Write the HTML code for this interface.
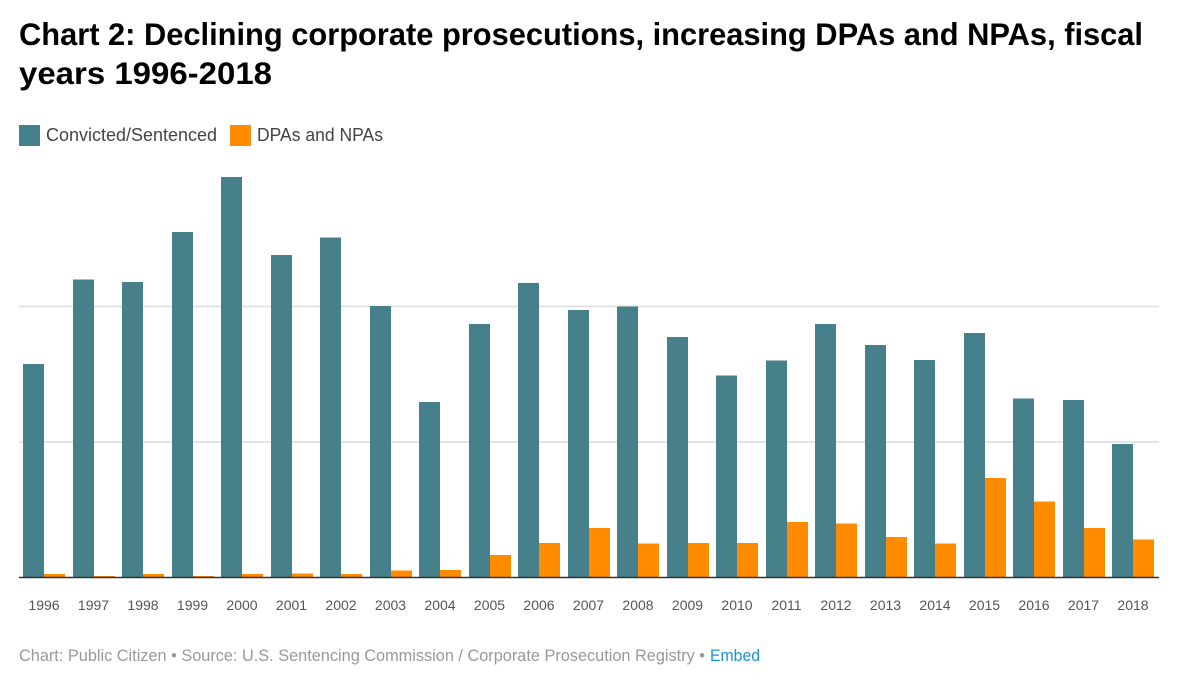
<!DOCTYPE html>
<html lang="en">
<head>
<meta charset="utf-8">
<title>Chart 2: Declining corporate prosecutions, increasing DPAs and NPAs, fiscal years 1996-2018</title>
<style>
  html, body { margin: 0; padding: 0; background: #fff; }
  body { width: 1195px; height: 687px; overflow: hidden; font-family: "Liberation Sans", sans-serif; }
  svg { display: block; }
  text { font-family: "Liberation Sans", sans-serif; }
</style>
</head>
<body>
<svg id="chart" xmlns="http://www.w3.org/2000/svg" width="1195" height="687" viewBox="0 0 1195 687">
  <rect x="0" y="0" width="1195" height="687" fill="#ffffff"/>
  <g font-size="31.5" font-weight="700" fill="#000000">
    <text x="19" y="45" textLength="1124" lengthAdjust="spacingAndGlyphs">Chart 2: Declining corporate prosecutions, increasing DPAs and NPAs, fiscal</text>
    <text x="19" y="84" textLength="253" lengthAdjust="spacingAndGlyphs">years 1996-2018</text>
  </g>
  <g font-size="18" fill="#444444">
    <rect x="19" y="125" width="21" height="21" fill="#46808a"/>
    <text x="46" y="141" textLength="171" lengthAdjust="spacingAndGlyphs">Convicted/Sentenced</text>
    <rect x="230" y="125" width="21" height="21" fill="#ff8c00"/>
    <text x="257" y="141" textLength="126" lengthAdjust="spacingAndGlyphs">DPAs and NPAs</text>
  </g>
  <g id="grid"></g>
  <g id="bars"></g>
  <g id="xaxis"></g>
  <g font-size="16.5">
    <text x="19" y="661" fill="#999999" textLength="686" lengthAdjust="spacingAndGlyphs">Chart: Public Citizen • Source: U.S. Sentencing Commission / Corporate Prosecution Registry •</text>
    <text x="710" y="661" fill="#1a94d8" textLength="50" lengthAdjust="spacingAndGlyphs" style="cursor:pointer">Embed</text>
  </g>
</svg>
<script>
const categories = ["1996","1997","1998","1999","2000","2001","2002","2003","2004","2005","2006","2007","2008","2009","2010","2011","2012","2013","2014","2015","2016","2017","2018"];
const convicted = [157.5,220,218,255,295.5,238,251,200.5,129.5,187,217.5,197.5,200,177.5,149,160,187,171.5,160.5,180.5,132,131,98.5];
const dpasNpas = [2.5,1,2.5,1,2.5,3,2.5,5,5.5,16.5,25.5,36.5,25,25.5,25.5,41,40,30,25,73.5,56,36.5,28];
const gridValues = [100,200];

const svgNS = "http://www.w3.org/2000/svg";
const PLOT_LEFT = 19;
const PLOT_RIGHT = 1159;
const BASELINE = 577.5;
const PX_PER_UNIT = 1.355;
const BAND = 49.5;
const FIRST_CENTER = 44;
const BAR_W = 21;

function yScale(v) { return BASELINE - v * PX_PER_UNIT; }
function xCenter(i) { return FIRST_CENTER + i * BAND; }

function make(tag, attrs, parent) {
  const el = document.createElementNS(svgNS, tag);
  for (const k in attrs) el.setAttribute(k, attrs[k]);
  parent.appendChild(el);
  return el;
}

const gridGroup = document.getElementById("grid");
gridValues.forEach(function (v) {
  const line = make("line", { x1: PLOT_LEFT, x2: PLOT_RIGHT, y1: yScale(v), y2: yScale(v), stroke: "#dcdcdc", "stroke-width": 1.5 }, gridGroup);
  
  
});

const barsGroup = document.getElementById("bars");
categories.forEach(function (cat, i) {
  const cx = Math.round(xCenter(i));
  const a = make("rect", { x: cx - BAR_W, width: BAR_W, y: yScale(convicted[i]), height: BASELINE - yScale(convicted[i]), fill: "#46808a", "shape-rendering": "crispEdges" }, barsGroup);
  
  
  const b = make("rect", { x: cx, width: BAR_W, y: yScale(dpasNpas[i]), height: BASELINE - yScale(dpasNpas[i]), fill: "#ff8c00", "shape-rendering": "crispEdges" }, barsGroup);
  
  
});

const axisGroup = document.getElementById("xaxis");
const axisLine = make("line", { x1: PLOT_LEFT, x2: PLOT_RIGHT, y1: BASELINE, y2: BASELINE, stroke: "#333333", "stroke-width": 1.4 }, axisGroup);


categories.forEach(function (cat, i) {
  const t = make("text", { x: xCenter(i), y: 610, "text-anchor": "middle", "font-size": 14, fill: "#555555" }, axisGroup);
  
  
  t.textContent = cat;
});
</script>
</body>
</html>
